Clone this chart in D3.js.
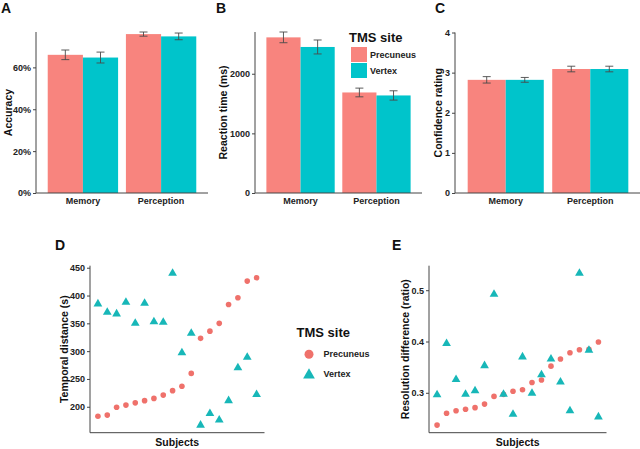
<!DOCTYPE html>
<html lang="en">
  <head>
    <meta charset="utf-8">
    <title>TMS site figure</title>
    <script src="https://cdn.jsdelivr.net/npm/d3@7"></script>
    <style>
      body { margin: 0; background: #fff; }
      svg { display: block; font-family: "Liberation Sans", Arial, sans-serif; }
      .axis-line { stroke: #444; stroke-width: 1; fill: none; }
      .tick-label { font-size: 9px; font-weight: bold; fill: #222; }
      .axis-title { font-size: 10.5px; font-weight: bold; fill: #111; }
      .panel-letter { font-size: 14px; font-weight: bold; fill: #111; }
    </style>
  </head>
  <body>
    <svg width="640" height="449"></svg>

    <script>
    // ---- data ----
    var groups = ["Memory", "Perception"];
    var sites = ["Precuneus", "Vertex"];

    var accPrecuneus = [0.660, 0.759],
        accVertex    = [0.647, 0.748],
        accSePrecuneus = [0.023, 0.010],
        accSeVertex    = [0.026, 0.016];

    var rtPrecuneus = [2610, 1686],
        rtVertex    = [2449, 1636],
        rtSePrecuneus = [90, 73],
        rtSeVertex    = [117, 78];

    var confPrecuneus = [2.82, 3.09],
        confVertex    = [2.82, 3.09],
        confSePrecuneus = [0.08, 0.07],
        confSeVertex    = [0.06, 0.07];

    var subjects = [1, 2, 3, 4, 5, 6, 7, 8, 9, 10, 11, 12, 13, 14, 15, 16, 17, 18];

    var temporalPrecuneus = [183, 185, 199, 203, 207, 211, 215, 221, 229, 237, 260, 323, 336, 350, 384, 396, 426, 432];
    var temporalVertex    = [385, 370, 367, 388, 350, 386, 353, 352, 440, 297, 332, 167, 188, 176, 211, 270, 289, 222];

    var resolutionPrecuneus = [0.237, 0.260, 0.265, 0.268, 0.271, 0.278, 0.293, 0.297, 0.303, 0.306, 0.320, 0.325, 0.352, 0.366, 0.378, 0.384, 0.385, 0.399];
    var resolutionVertex    = [0.296, 0.396, 0.326, 0.297, 0.304, 0.353, 0.492, 0.297, 0.258, 0.370, 0.299, 0.335, 0.366, 0.321, 0.265, 0.533, 0.383, 0.253];

    var barColors = { Precuneus: "#F8847E", Vertex: "#00C4CB" };
    var pointColors = { Precuneus: "#EF716B", Vertex: "#17B7B8" };

    var svg = d3.select("svg");

    function letter(txt, x, y) {
      svg.append("text").attr("class", "panel-letter").attr("x", x).attr("y", y).text(txt);
    }

    function yTitle(txt, x, y0, y1) {
      svg.append("text").attr("class", "axis-title")
          .attr("transform", "translate(" + x + "," + ((y0 + y1) / 2) + ") rotate(-90)")
          .attr("text-anchor", "middle").attr("dy", "0.35em")
          .text(txt);
    }

    function yAxis(g, y, ticks, fmt) {
      var ax = d3.axisLeft(y).tickValues(ticks).tickSize(3).tickPadding(2).tickFormat(fmt);
      g.call(ax);
      g.select(".domain").remove();
      g.selectAll(".tick line").attr("stroke", "#444");
      g.selectAll(".tick text").attr("class", "tick-label").attr("fill", null)
          .style("font-family", null).style("font-size", null);
      g.attr("font-family", null).attr("font-size", null);
    }

    /* BAR PANELS */
    function barPanel(opt) {
      var g = svg.append("g");
      var x0 = d3.scaleBand().domain(groups).range([opt.left, opt.right])
          .paddingInner(0.1).paddingOuter(0.15);
      var x1 = d3.scaleBand().domain(sites).range([0, x0.bandwidth()]).padding(0);
      var y = d3.scaleLinear().domain(opt.domain).range([opt.bottom, opt.top]);

      var rows = [];
      groups.forEach(function(gr, i) {
        rows.push({ group: gr, site: "Precuneus", mean: opt.p[i], se: opt.pse[i] });
        rows.push({ group: gr, site: "Vertex", mean: opt.v[i], se: opt.vse[i] });
      });

      g.selectAll("rect").data(rows).enter().append("rect")
          .attr("x", function(d) { return x0(d.group) + x1(d.site); })
          .attr("y", function(d) { return y(d.mean); })
          .attr("width", x1.bandwidth())
          .attr("height", function(d) { return y(0) - y(d.mean); })
          .attr("fill", function(d) { return barColors[d.site]; });

      var eb = g.selectAll(".eb").data(rows).enter().append("g").attr("class", "eb")
          .attr("stroke", "#4a4a4a").attr("stroke-width", 0.9);
      var cx = function(d) { return x0(d.group) + x1(d.site) + x1.bandwidth() / 2; };
      var hw = 4;
      eb.append("line")
          .attr("x1", cx).attr("x2", cx)
          .attr("y1", function(d) { return y(d.mean + d.se); })
          .attr("y2", function(d) { return y(d.mean - d.se); });
      eb.append("line")
          .attr("x1", function(d) { return cx(d) - hw; }).attr("x2", function(d) { return cx(d) + hw; })
          .attr("y1", function(d) { return y(d.mean + d.se); })
          .attr("y2", function(d) { return y(d.mean + d.se); });
      eb.append("line")
          .attr("x1", function(d) { return cx(d) - hw; }).attr("x2", function(d) { return cx(d) + hw; })
          .attr("y1", function(d) { return y(d.mean - d.se); })
          .attr("y2", function(d) { return y(d.mean - d.se); });

      // axes
      g.append("path").attr("class", "axis-line")
          .attr("d", "M" + opt.left + "," + opt.top + "V" + opt.bottom + "H" + opt.right);
      var ya = g.append("g").attr("transform", "translate(" + opt.left + ",0)");
      yAxis(ya, y, opt.ticks, opt.fmt);

      g.selectAll(".xlab").data(groups).enter().append("text")
          .attr("class", "tick-label")
          .attr("x", function(d) { return x0(d) + x0.bandwidth() / 2; })
          .attr("y", opt.bottom + 10.5)
          .attr("text-anchor", "middle")
          .text(function(d) { return d; });

      yTitle(opt.title, opt.titleX, opt.top, opt.bottom);
    }

    var accTop = d3.max(accPrecuneus.map(function(v, i) { return v + accSePrecuneus[i]; })
        .concat(accVertex.map(function(v, i) { return v + accSeVertex[i]; })));
    var rtTop = d3.max(rtPrecuneus.map(function(v, i) { return v + rtSePrecuneus[i]; })
        .concat(rtVertex.map(function(v, i) { return v + rtSeVertex[i]; })));

    barPanel({ left: 36, right: 208, top: 32, bottom: 193, domain: [0, accTop],
      p: accPrecuneus, v: accVertex, pse: accSePrecuneus, vse: accSeVertex,
      ticks: [0, 0.2, 0.4, 0.6], fmt: d3.format(".0%"), title: "Accuracy", titleX: 8 });

    barPanel({ left: 255, right: 422, top: 32, bottom: 193, domain: [0, rtTop],
      p: rtPrecuneus, v: rtVertex, pse: rtSePrecuneus, vse: rtSeVertex,
      ticks: [0, 1000, 2000], fmt: d3.format("d"), title: "Reaction time (ms)", titleX: 223 });

    barPanel({ left: 455, right: 641, top: 32.5, bottom: 193, domain: [0, 4],
      p: confPrecuneus, v: confVertex, pse: confSePrecuneus, vse: confSeVertex,
      ticks: [0, 1, 2, 3, 4], fmt: d3.format("d"), title: "Confidence rating", titleX: 438.5 });

    letter("A", 1, 13);
    letter("B", 216, 13);
    letter("C", 435, 13);

    // legend in panel B
    var lgB = svg.append("g");
    lgB.append("text").attr("x", 349).attr("y", 42).attr("font-size", 13).attr("font-weight", "bold")
        .attr("fill", "#111").text("TMS site");
    sites.forEach(function(s, i) {
      lgB.append("rect").attr("x", 351).attr("y", 47 + i * 16).attr("width", 16).attr("height", 15)
          .attr("fill", barColors[s]);
      lgB.append("text").attr("class", "tick-label").attr("x", 370).attr("y", 54.5 + i * 16)
          .attr("dy", "0.35em").text(s);
    });

    /* SCATTER PANELS */
    function scatterPanel(opt) {
      var g = svg.append("g");
      var x = d3.scaleLinear().domain([0.15, 18.85]).range([opt.left, opt.right]);
      var ext = d3.extent(opt.p.concat(opt.v));
      var pad = (ext[1] - ext[0]) * 0.05;
      var y = d3.scaleLinear().domain([ext[0] - pad, ext[1] + pad]).range([opt.bottom, opt.top]);

      g.selectAll(".pc").data(subjects).enter().append("circle")
          .attr("cx", function(d) { return x(d); })
          .attr("cy", function(d, i) { return y(opt.p[i]); })
          .attr("r", 2.8)
          .attr("fill", pointColors.Precuneus);

      var tri = d3.symbol().type(d3.symbolTriangle).size(33);
      g.selectAll(".vx").data(subjects).enter().append("path")
          .attr("d", tri)
          .attr("transform", function(d, i) { return "translate(" + x(d) + "," + y(opt.v[i]) + ")"; })
          .attr("fill", pointColors.Vertex);

      g.append("path").attr("class", "axis-line")
          .attr("d", "M" + opt.left + "," + opt.top + "V" + opt.bottom + "H" + opt.right);
      var ya = g.append("g").attr("transform", "translate(" + opt.left + ",0)");
      yAxis(ya, y, opt.ticks, opt.fmt);

      g.append("text").attr("class", "axis-title")
          .attr("x", (opt.left + opt.right) / 2).attr("y", opt.bottom + 13.5)
          .attr("text-anchor", "middle").text("Subjects");

      yTitle(opt.title, opt.titleX, opt.top, opt.bottom);
    }

    scatterPanel({ left: 90, right: 264.5, top: 265.7, bottom: 432.7,
      p: temporalPrecuneus, v: temporalVertex,
      ticks: [200, 250, 300, 350, 400, 450], fmt: d3.format("d"),
      title: "Temporal distance (s)", titleX: 64 });

    scatterPanel({ left: 429, right: 606.5, top: 265.7, bottom: 432.7,
      p: resolutionPrecuneus, v: resolutionVertex,
      ticks: [0.3, 0.4, 0.5], fmt: d3.format(".1f"),
      title: "Resolution difference (ratio)", titleX: 405 });

    letter("D", 55, 250);
    letter("E", 392, 250);

    // legend between D and E
    var lgD = svg.append("g");
    lgD.append("text").attr("x", 296.5).attr("y", 337).attr("font-size", 13).attr("font-weight", "bold")
        .attr("fill", "#111").text("TMS site");
    lgD.append("circle").attr("cx", 309).attr("cy", 354.3).attr("r", 4.5).attr("fill", pointColors.Precuneus);
    lgD.append("path").attr("d", d3.symbol().type(d3.symbolTriangle).size(60))
        .attr("transform", "translate(309,375)").attr("fill", pointColors.Vertex);
    lgD.append("text").attr("class", "tick-label").attr("x", 323.5).attr("y", 354.3).attr("dy", "0.35em").text("Precuneus");
    lgD.append("text").attr("class", "tick-label").attr("x", 323.5).attr("y", 374).attr("dy", "0.35em").text("Vertex");
    </script>
  </body>
</html>
